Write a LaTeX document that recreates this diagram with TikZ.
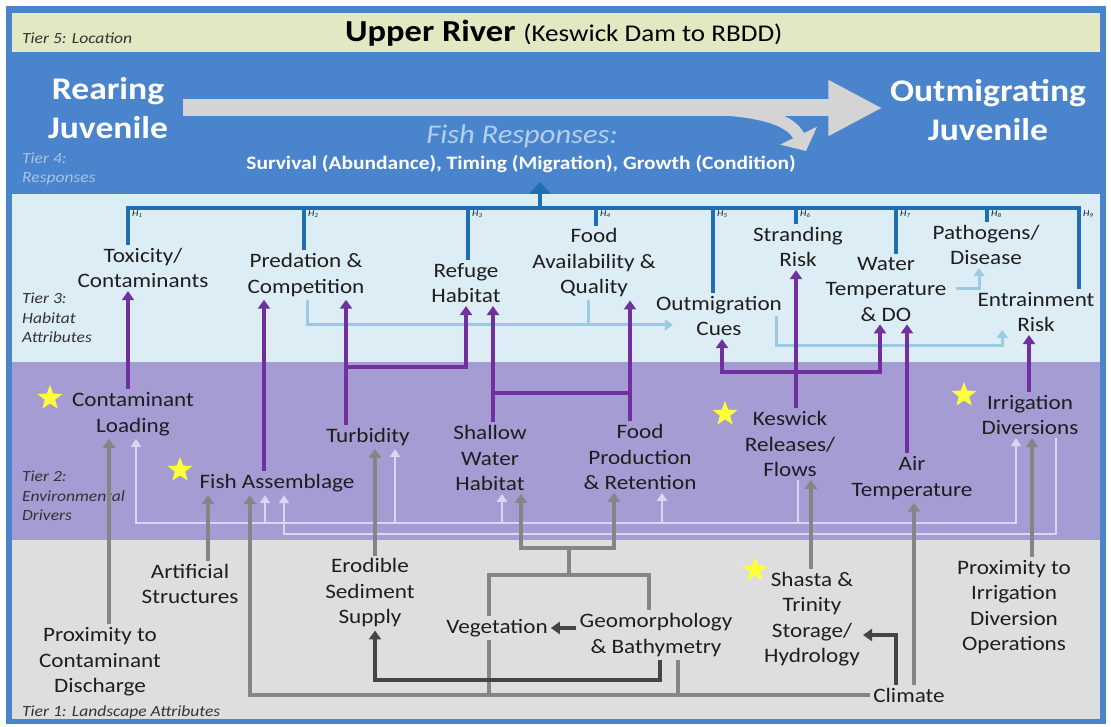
\documentclass[tikz,border=0pt]{standalone}
\usepackage{fontspec}
\setmainfont{Carlito}[FakeStretch=1.13]
\usetikzlibrary{arrows.meta, shapes.geometric}

\definecolor{framecol}{HTML}{4A84CC}
\definecolor{tierfive}{HTML}{E3E8C2}
\definecolor{tierthree}{HTML}{DDEDF5}
\definecolor{tiertwo}{HTML}{A49CD2}
\definecolor{tierone}{HTML}{DEDEDE}
\definecolor{hblue}{HTML}{1F6EB4}
\definecolor{purp}{HTML}{7030A0}
\definecolor{lblue}{HTML}{9CCAE2}
\definecolor{midgray}{HTML}{858585}
\definecolor{darkgray}{HTML}{454545}
\definecolor{lav}{HTML}{DCD5F3}
\definecolor{bigarr}{HTML}{D4D4D4}
\definecolor{staryel}{HTML}{FFFF3C}
\definecolor{txtcol}{HTML}{1E1E1E}
\definecolor{respblue}{HTML}{B3CFEE}
\definecolor{tierlab}{HTML}{333333}
\definecolor{tierfourlab}{HTML}{A9C3E6}

\tikzset{
  attr/.style={font=\fontsize{20.5}{25.5}\selectfont, text=txtcol, align=center, inner sep=3pt},
  tierlabel/.style={font=\itshape\fontsize{15.5}{19.5}\selectfont, text=tierlab, align=left, anchor=west, inner sep=0pt},
  hlab/.style={font=\itshape\fontsize{9}{10}\selectfont, text=txtcol, inner sep=0pt, anchor=north west},
  juv/.style={font=\bfseries\fontsize{31.5}{39}\selectfont, text=white, align=center},
  staricon/.style={star, star points=5, star point ratio=2.4, fill=staryel, minimum size=26pt, inner sep=0pt},
  hline/.style={draw=hblue, line width=4.5pt},
  lbarrow/.style={draw=lblue, line width=3pt, -{Triangle[width=11pt,length=8pt]}},
  lbline/.style={draw=lblue, line width=3pt},
  purparrow/.style={draw=purp, line width=3.5pt, -{Triangle[width=12pt,length=9pt]}},
  purpline/.style={draw=purp, line width=3.5pt},
  grayarrow/.style={draw=midgray, line width=3.5pt, -{Triangle[width=12pt,length=9pt]}},
  grayline/.style={draw=midgray, line width=3.5pt},
  darkarrow/.style={draw=darkgray, line width=3.5pt, -{Triangle[width=12pt,length=9pt]}},
  lavarrow/.style={draw=lav, line width=2.5pt, -{Triangle[width=10pt,length=8pt]}},
  lavline/.style={draw=lav, line width=2.5pt},
}

\begin{document}
\begin{tikzpicture}[x=1pt, y=-1pt]
  \useasboundingbox (0,0) rectangle (1111,727);

  % Faixas dos tiers
  \fill[framecol] (6,6) rectangle (1106,724);
  \fill[tierfive] (12,13) rectangle (1100,52);
  \fill[tierthree] (12,194) rectangle (1100,362);
  \fill[tiertwo] (12,362) rectangle (1100,540);
  \fill[tierone] (12,540) rectangle (1100,719);

  % Rotulos dos tiers
  \node[tierlabel] (tfive) at (22,38) {Tier 5: Location};
  \node[tierlabel, text=tierfourlab] (tfour) at (22,169) {Tier 4:\\Responses};
  \node[tierlabel] (tthree) at (22,318) {Tier 3:\\Habitat\\Attributes};
  \node[tierlabel] (ttwo) at (22,496) {Tier 2:\\Environmental\\Drivers};
  \node[tierlabel] (tone) at (22,712) {Tier 1: Landscape Attributes};

  % Tier 5 e tier 4
  \node[anchor=west, inner sep=0pt, text=black] (title) at (345,33)
    {\bfseries\fontsize{30.5}{32}\selectfont Upper River \mdseries\fontsize{24}{26}\selectfont(Keswick Dam to RBDD)};
  \node[juv] (rearing) at (108,108) {Rearing\\Juvenile};
  \node[juv] (outjuv) at (988,110) {Outmigrating\\Juvenile};
  \node[font=\itshape\fontsize{27}{29}\selectfont, text=respblue] (fishresp) at (522,136) {Fish Responses:};
  \node[font=\bfseries\fontsize{19}{22}\selectfont, text=white] (survival) at (521,164)
    {Survival (Abundance), Timing (Migration), Growth (Condition)};

  % Seta grande
  \draw[draw=bigarr, line width=17pt, -{Triangle[width=52pt,length=54pt]}]
    ([xshift=12pt]rearing.east) -- ([xshift=-4pt]outjuv.west |- rearing.east);
  \coordinate (branchstart) at (680,108);
  \coordinate (branchtip) at (806,151);
  \draw[draw=bigarr, line width=12pt, -{Triangle[width=40pt,length=17pt]}]
    (branchstart) .. controls (755,108) and (790,118) .. (branchtip);

  % Tier 3
  \node[attr] (tox) at (143,268) {Toxicity/\\Contaminants};
  \node[attr] (pred) at (306,275) {Predation \&\\Competition};
  \node[attr] (refuge) at (466,283) {Refuge\\Habitat};
  \node[attr] (foodav) at (594,263) {Food\\Availability \&\\Quality};
  \node[attr] (outmig) at (719,316) {Outmigration\\Cues};
  \node[attr] (strand) at (798,247) {Stranding\\Risk};
  \node[attr] (wtemp) at (886,289) {Water\\Temperature\\\& DO};
  \node[attr] (patho) at (986,245) {Pathogens/\\Disease};
  \node[attr] (entrain) at (1036,312) {Entrainment\\Risk};

  % Tier 2
  \node[attr] (contload) at (133,414) {Contaminant\\Loading};
  \node[attr] (fishas) at (277,483) {Fish Assemblage};
  \node[attr] (turb) at (368,437) {Turbidity};
  \node[attr] (shallow) at (490,458) {Shallow\\Water\\Habitat};
  \node[attr] (foodprod) at (640,457) {Food\\Production\\\& Retention};
  \node[attr] (keswick) at (790,444) {Keswick\\Releases/\\Flows};
  \node[attr] (airtemp) at (912,478) {Air\\Temperature};
  \node[attr] (irrig) at (1030,415) {Irrigation\\Diversions};

  % Tier 1
  \node[attr] (proxcont) at (100,662) {Proximity to\\Contaminant\\Discharge};
  \node[attr] (artif) at (190,584) {Artificial\\Structures};
  \node[attr] (erod) at (370,593) {Erodible\\Sediment\\Supply};
  \node[attr] (veg) at (497,628) {Vegetation};
  \node[attr] (geomorph) at (656,635) {Geomorphology\\\& Bathymetry};
  \node[attr] (shasta) at (812,619) {Shasta \&\\Trinity\\Storage/\\Hydrology};
  \node[attr] (climate) at (909,695) {Climate};
  \node[attr] (proxirr) at (1014,607) {Proximity to\\Irrigation\\Diversion\\Operations};

  % Estrelas
  \node[staricon] (starcont) at (50,398) {};
  \node[staricon] (starfish) at (180,470) {};
  \node[staricon] (starkes) at (725,414) {};
  \node[staricon] (starirr) at (964,395) {};
  \node[staricon] (starsha) at (755,570) {};

  % Barra H azul
  \coordinate (hbar) at (0,208);
  \coordinate (respin) at (540,182);
  \draw[hline] ([xshift=-15pt]tox.north) |- ([xshift=43pt]entrain.north |- hbar) -- ([xshift=43pt]entrain.north);
  \draw[hline, -{Triangle[width=22pt,length=12pt]}] (respin |- hbar) -- (respin);
  \foreach \n/\dx/\i in {tox/-15/1, pred/-2/2, refuge/2/3, foodav/2/4, outmig/-6/5,
                         strand/-2/6, wtemp/10/7, patho/1/8, entrain/43/9} {
    \draw[hline] ([xshift=\dx pt]\n.north) -- ([xshift=\dx pt]\n.north |- hbar);
    \node[hlab] (h\i) at ([xshift=\dx pt + 4pt, yshift=-3pt]\n.north |- hbar) {H\textsubscript{\i}};
  }

  % Setas azul claro (tier 3)
  \coordinate (cuebus) at (0,325);
  \coordinate (entbus) at (0,345);
  \draw[lbarrow] ([xshift=1pt]pred.south) -- ([xshift=1pt]pred.south |- cuebus) -- ([xshift=20pt]outmig.west |- cuebus);
  \draw[lbline] ([xshift=-6pt]foodav.south) -- ([xshift=-6pt]foodav.south |- cuebus);
  \draw[lbarrow] ([xshift=-9pt]outmig.east) -- ([xshift=-9pt]outmig.east |- entbus) -| ([xshift=28pt,yshift=-18pt]entrain.west);
  \draw[lbarrow] ([xshift=6pt]wtemp.east) -| ([xshift=-7pt]patho.south);

  % Linhas lilas (tier 2)
  \coordinate (lavA) at (0,523);
  \coordinate (lavB) at (0,534);
  \coordinate (kesjoin) at ([xshift=8pt]keswick.south |- lavA);
  \draw[lavline] ([xshift=8pt]keswick.south) -- (kesjoin);
  \foreach \n/\dx in {contload/3, fishas/-12, turb/27, shallow/12, foodprod/22, irrig/-14}
    \draw[lavarrow] (kesjoin) -| ([xshift=\dx pt]\n.south);
  \draw[lavarrow] ([xshift=26pt]irrig.south) -- ([xshift=26pt]irrig.south |- lavB) -| ([xshift=7pt]fishas.south);

  % Setas cinza (tier 1 -> tier 2)
  \coordinate (vegbus) at (0,575);
  \coordinate (shbus) at (0,548);
  \coordinate (treestem) at (569,575);
  \draw[grayarrow] ([xshift=9pt]proxcont.north) -- ([xshift=-24pt]contload.south);
  \draw[grayarrow] ([xshift=18pt]artif.north) -- ([xshift=-69pt]fishas.south);
  \draw[grayarrow] (climate.west) -| ([xshift=-27pt]fishas.south);
  \draw[grayline] ([xshift=-8pt]veg.south) -- ([xshift=-8pt]veg.south |- climate.west);
  \draw[grayline] ([xshift=22pt]geomorph.south) -- ([xshift=22pt]geomorph.south |- climate.west);
  \draw[grayarrow] ([xshift=5pt]erod.north) -- ([xshift=7pt]turb.south);
  \draw[grayline] ([xshift=-8pt]veg.north) -- ([xshift=-8pt]veg.north |- vegbus) -| ([xshift=-7pt]geomorph.north);
  \draw[grayline] (treestem) -- (treestem |- shbus);
  \draw[grayarrow] (treestem |- shbus) -| ([xshift=31pt]shallow.south);
  \draw[grayarrow] (treestem |- shbus) -| ([xshift=-26pt]foodprod.south);
  \draw[grayarrow] ([xshift=-1pt]shasta.north) -- ([xshift=21pt]keswick.south);
  \draw[grayarrow] ([xshift=5pt]climate.north) -- ([xshift=2pt]airtemp.south);
  \draw[grayarrow] ([xshift=18pt]proxirr.north) -- ([xshift=2pt]irrig.south);

  % Setas cinza escuro
  \coordinate (darkbus) at (0,680);
  \draw[darkarrow] (geomorph.west |- veg.east) -- (veg.east);
  \draw[darkarrow] ([xshift=4pt]geomorph.south) -- ([xshift=4pt]geomorph.south |- darkbus) -| ([xshift=5pt]erod.south);
  \draw[darkarrow] ([xshift=-13pt]climate.north) |- ([yshift=-16pt]shasta.east);

  % Setas roxas (tier 2 -> tier 3)
  \coordinate (turbbus) at (0,367);
  \coordinate (foodbus) at (0,393);
  \coordinate (kesbus) at (0,372);
  \draw[purparrow] ([xshift=-5pt]contload.north) -- ([xshift=-15pt]tox.south);
  \draw[purparrow] ([xshift=-13pt]fishas.north) -- ([xshift=-42pt]pred.south);
  \draw[purparrow] ([xshift=-22pt]turb.north) -- ([xshift=40pt]pred.south);
  \draw[purparrow] ([xshift=-22pt]turb.north |- turbbus) -| (refuge.south);
  \draw[purparrow] ([xshift=3pt]shallow.north) -- ([xshift=27pt]refuge.south);
  \draw[purparrow] ([xshift=-10pt]foodprod.north) -- ([xshift=36pt]foodav.south);
  \draw[purpline] ([xshift=3pt]shallow.north |- foodbus) -- ([xshift=-10pt]foodprod.north |- foodbus);
  \draw[purparrow] ([xshift=6pt]keswick.north) -- ([xshift=-2pt]strand.south);
  \draw[purparrow] ([xshift=6pt]keswick.north |- kesbus) -| ([xshift=3pt]outmig.south);
  \draw[purparrow] ([xshift=6pt]keswick.north |- kesbus) -| ([xshift=-6pt]wtemp.south);
  \draw[purparrow] ([xshift=-5pt]airtemp.north) -- ([xshift=21pt]wtemp.south);
  \draw[purparrow] ([xshift=-1pt]irrig.north) -- ([xshift=-7pt]entrain.south);
\end{tikzpicture}
\end{document}
